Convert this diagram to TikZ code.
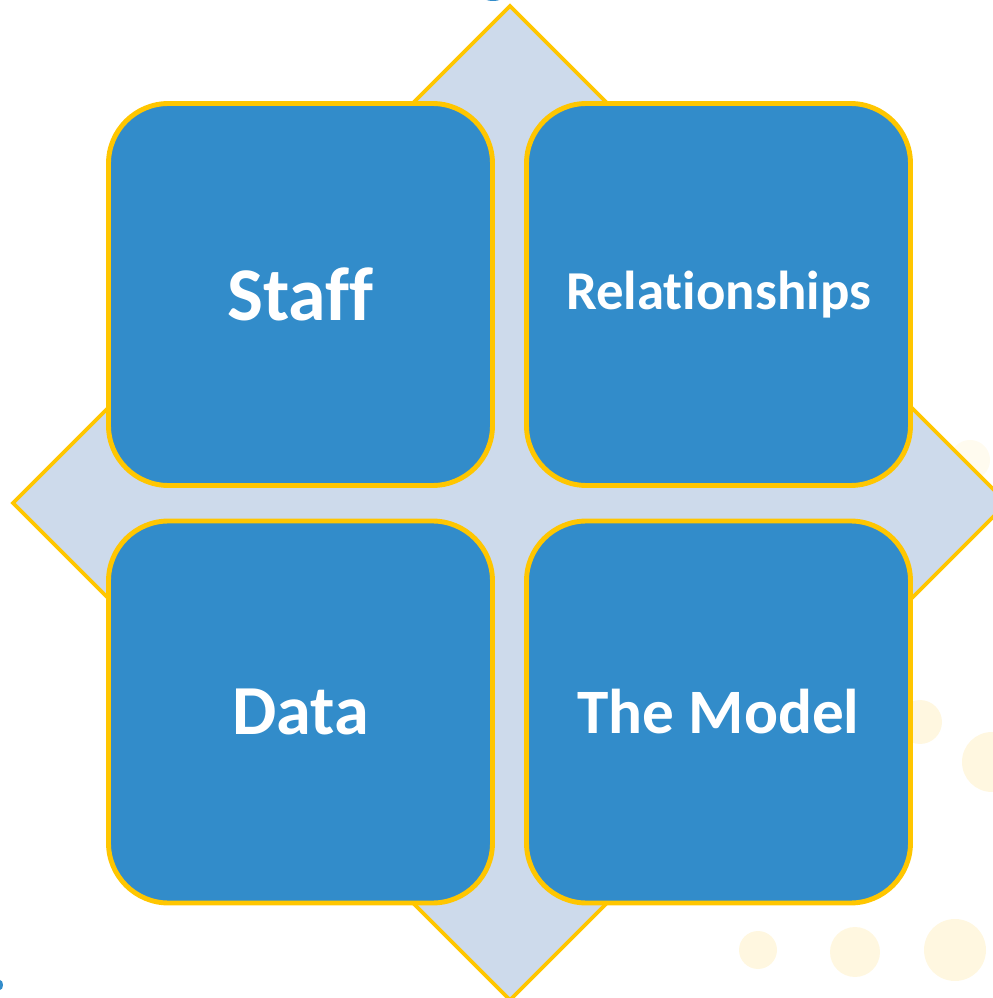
\documentclass[tikz,border=0pt]{standalone}
\usepackage{fontspec}
\setmainfont[Ligatures=NoCommon]{Carlito}
\usetikzlibrary{calc}
\definecolor{boxblue}{RGB}{50,140,202}
\definecolor{gold}{RGB}{255,198,0}
\definecolor{paleblue}{RGB}{205,218,235}
\definecolor{dotyellow}{RGB}{255,243,208}
\begin{document}
\begin{tikzpicture}[
		square/.style={draw=gold, line width=1.4pt, fill=boxblue, rounded corners=0.6cm,
			minimum width=3.84cm, minimum height=3.82cm, text=white, font=\bfseries},
		dot/.style={fill=dotyellow, opacity=0.65}
	]
		\useasboundingbox (0,0) rectangle (9.93,9.98);
		\clip (0,0) rectangle (9.93,9.98);
		\def\r{4.97}
		% faint background dots
		\fill[dot] (7.58,0.48) circle (0.19);
		\fill[dot] (8.55,0.46) circle (0.25);
		\fill[dot] (9.55,0.48) circle (0.31);
		\fill[dot] (9.20,2.76) circle (0.22);
		\fill[dot] (9.92,2.36) circle (0.30);
		\fill[dot, opacity=0.35] (9.70,5.38) circle (0.20);
		\fill[boxblue] (4.93,10.01) ellipse (0.10 and 0.04);
		\fill[boxblue] (0,0.13) ellipse (0.03 and 0.05);
		% diamond behind the squares
		\coordinate (C) at (5.10,4.95);
		\filldraw[fill=paleblue, draw=gold, line width=1.1pt]
			($(C)+(0,\r)$) coordinate (top) -- ($(C)+(\r,0)$) coordinate (right)
			-- ($(C)+(0,-\r)$) coordinate (bottom) -- ($(C)+(-\r,0)$) coordinate (left) -- cycle;
		\node[square, font=\bfseries\fontsize{21.6}{24}\selectfont] (staff) at (3.005,7.035) {Staff};
		\node[square, font=\bfseries\fontsize{15.6}{18}\selectfont] (rel) at (7.185,7.035) {Relationships};
		\node[square, font=\bfseries\fontsize{20}{24}\selectfont] (data) at (3.005,2.86) {Data};
		\node[square, font=\bfseries\fontsize{18}{22}\selectfont] (model) at (7.185,2.86) {The Model};
	\end{tikzpicture}
\end{document}
